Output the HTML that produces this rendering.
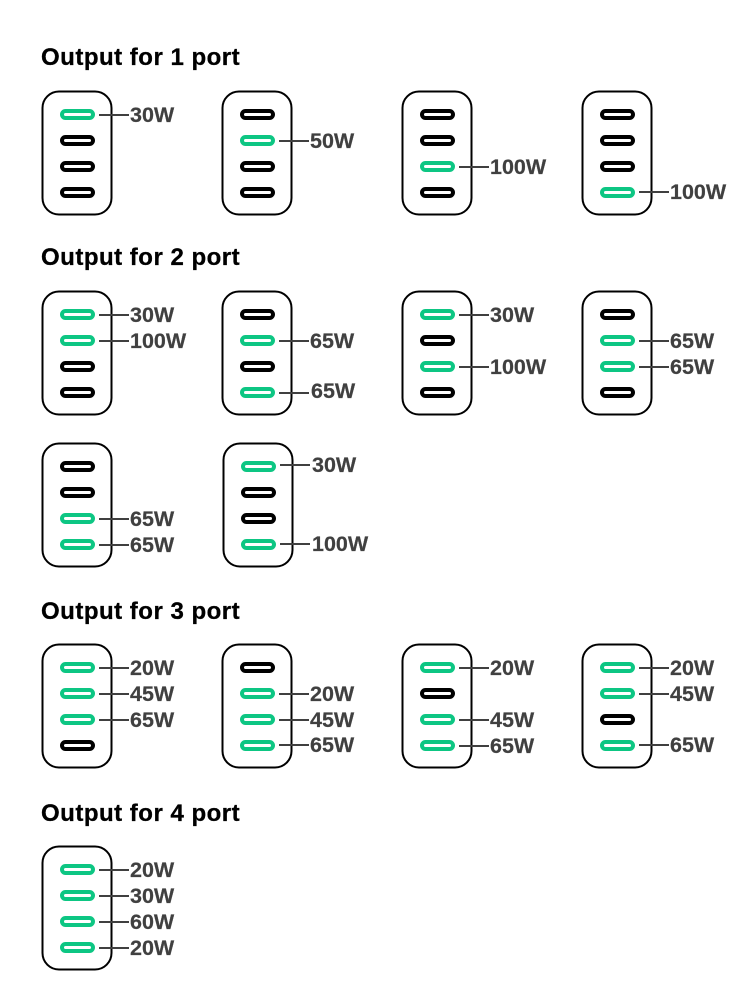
<!DOCTYPE html>
<html><head><meta charset="utf-8"><style>
html,body{margin:0;padding:0;background:#fff;width:750px;height:1000px;overflow:hidden}
svg{display:block}
.h{font:bold 24px "Liberation Sans",sans-serif;letter-spacing:.5px;fill:#000;stroke:#000;stroke-width:.3}
.l{font:bold 21.5px "Liberation Sans",sans-serif;fill:#404040;stroke:#404040;stroke-width:.2}
</style></head><body>
<svg width="750" height="1000" viewBox="0 0 750 1000" xmlns="http://www.w3.org/2000/svg">
<defs>
<rect id="b" x=".5" y=".5" width="69" height="123" rx="16.5" fill="#fff" stroke="#000" stroke-width="2"/>
<rect id="k" x="0" y="-3.5" width="31" height="7" rx="3.5" fill="#fff" stroke="#000" stroke-width="4"/>
<rect id="g" x="0" y="-3.5" width="31" height="7" rx="3.5" fill="#fff" stroke="#0dc683" stroke-width="4"/>
<path id="n" d="M0 0H30" stroke="#404040" stroke-width="2" fill="none"/>
</defs>

<text class="h" x="41" y="65">Output for 1 port</text>
<use href="#b" x="42" y="91"/><use href="#g" x="62" y="114.5"/><use href="#k" x="62" y="140.5"/><use href="#k" x="62" y="166.5"/><use href="#k" x="62" y="192.5"/>
<use href="#n" x="99" y="115"/><text class="l" x="130" y="122">30W</text>
<use href="#b" x="222" y="91"/><use href="#k" x="242" y="114.5"/><use href="#g" x="242" y="140.5"/><use href="#k" x="242" y="166.5"/><use href="#k" x="242" y="192.5"/>
<use href="#n" x="279" y="141"/><text class="l" x="310" y="148">50W</text>
<use href="#b" x="402" y="91"/><use href="#k" x="422" y="114.5"/><use href="#k" x="422" y="140.5"/><use href="#g" x="422" y="166.5"/><use href="#k" x="422" y="192.5"/>
<use href="#n" x="459" y="167"/><text class="l" x="490" y="174">100W</text>
<use href="#b" x="582" y="91"/><use href="#k" x="602" y="114.5"/><use href="#k" x="602" y="140.5"/><use href="#k" x="602" y="166.5"/><use href="#g" x="602" y="192.5"/>
<use href="#n" x="639" y="192"/><text class="l" x="670" y="199">100W</text>

<text class="h" x="41" y="265">Output for 2 port</text>
<use href="#b" x="42" y="291"/><use href="#g" x="62" y="314.5"/><use href="#g" x="62" y="340.5"/><use href="#k" x="62" y="366.5"/><use href="#k" x="62" y="392.5"/>
<use href="#n" x="99" y="315"/><text class="l" x="130" y="322">30W</text>
<use href="#n" x="99" y="341"/><text class="l" x="130" y="348">100W</text>
<use href="#b" x="222" y="291"/><use href="#k" x="242" y="314.5"/><use href="#g" x="242" y="340.5"/><use href="#k" x="242" y="366.5"/><use href="#g" x="242" y="392.5"/>
<use href="#n" x="279" y="341"/><text class="l" x="310" y="348">65W</text>
<use href="#n" x="279" y="393"/><text class="l" x="311" y="398">65W</text>
<use href="#b" x="402" y="291"/><use href="#g" x="422" y="314.5"/><use href="#k" x="422" y="340.5"/><use href="#g" x="422" y="366.5"/><use href="#k" x="422" y="392.5"/>
<use href="#n" x="459" y="315"/><text class="l" x="490" y="322">30W</text>
<use href="#n" x="459" y="367"/><text class="l" x="490" y="374">100W</text>
<use href="#b" x="582" y="291"/><use href="#k" x="602" y="314.5"/><use href="#g" x="602" y="340.5"/><use href="#g" x="602" y="366.5"/><use href="#k" x="602" y="392.5"/>
<use href="#n" x="639" y="341"/><text class="l" x="670" y="348">65W</text>
<use href="#n" x="639" y="367"/><text class="l" x="670" y="374">65W</text>

<use href="#b" x="42" y="443"/><use href="#k" x="62" y="466.5"/><use href="#k" x="62" y="492.5"/><use href="#g" x="62" y="518.5"/><use href="#g" x="62" y="544.5"/>
<use href="#n" x="99" y="519"/><text class="l" x="130" y="526">65W</text>
<use href="#n" x="99" y="545"/><text class="l" x="130" y="552">65W</text>
<use href="#b" x="223" y="443"/><use href="#g" x="243" y="466.5"/><use href="#k" x="243" y="492.5"/><use href="#k" x="243" y="518.5"/><use href="#g" x="243" y="544.5"/>
<use href="#n" x="280" y="465"/><text class="l" x="312" y="472">30W</text>
<use href="#n" x="280" y="544"/><text class="l" x="312" y="551">100W</text>

<text class="h" x="41" y="619">Output for 3 port</text>
<use href="#b" x="42" y="644"/><use href="#g" x="62" y="667.5"/><use href="#g" x="62" y="693.5"/><use href="#g" x="62" y="719.5"/><use href="#k" x="62" y="745.5"/>
<use href="#n" x="99" y="668"/><text class="l" x="130" y="675">20W</text>
<use href="#n" x="99" y="694"/><text class="l" x="130" y="701">45W</text>
<use href="#n" x="99" y="720"/><text class="l" x="130" y="727">65W</text>
<use href="#b" x="222" y="644"/><use href="#k" x="242" y="667.5"/><use href="#g" x="242" y="693.5"/><use href="#g" x="242" y="719.5"/><use href="#g" x="242" y="745.5"/>
<use href="#n" x="279" y="694"/><text class="l" x="310" y="701">20W</text>
<use href="#n" x="279" y="720"/><text class="l" x="310" y="727">45W</text>
<use href="#n" x="279" y="745"/><text class="l" x="310" y="752">65W</text>
<use href="#b" x="402" y="644"/><use href="#g" x="422" y="667.5"/><use href="#k" x="422" y="693.5"/><use href="#g" x="422" y="719.5"/><use href="#g" x="422" y="745.5"/>
<use href="#n" x="459" y="668"/><text class="l" x="490" y="675">20W</text>
<use href="#n" x="459" y="720"/><text class="l" x="490" y="727">45W</text>
<use href="#n" x="459" y="746"/><text class="l" x="490" y="753">65W</text>
<use href="#b" x="582" y="644"/><use href="#g" x="602" y="667.5"/><use href="#g" x="602" y="693.5"/><use href="#k" x="602" y="719.5"/><use href="#g" x="602" y="745.5"/>
<use href="#n" x="639" y="668"/><text class="l" x="670" y="675">20W</text>
<use href="#n" x="639" y="694"/><text class="l" x="670" y="701">45W</text>
<use href="#n" x="639" y="745"/><text class="l" x="670" y="752">65W</text>

<text class="h" x="41" y="821">Output for 4 port</text>
<use href="#b" x="42" y="846"/><use href="#g" x="62" y="869.5"/><use href="#g" x="62" y="895.5"/><use href="#g" x="62" y="921.5"/><use href="#g" x="62" y="947.5"/>
<use href="#n" x="99" y="870"/><text class="l" x="130" y="877">20W</text>
<use href="#n" x="99" y="896"/><text class="l" x="130" y="903">30W</text>
<use href="#n" x="99" y="922"/><text class="l" x="130" y="929">60W</text>
<use href="#n" x="99" y="948"/><text class="l" x="130" y="955">20W</text>
</svg>
</body></html>
